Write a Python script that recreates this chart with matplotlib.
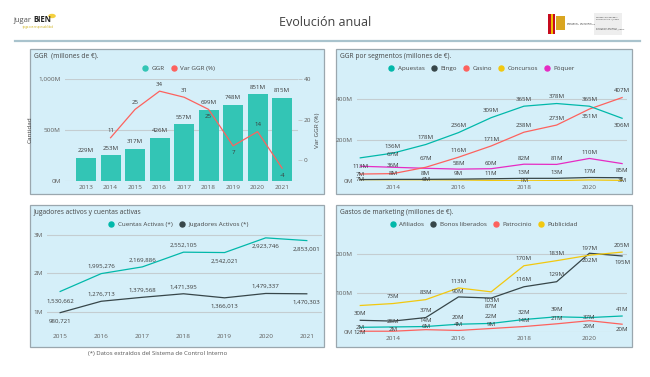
import matplotlib.pyplot as plt
import matplotlib.patches as mpatches
from matplotlib.lines import Line2D
import numpy as np

plt.rcParams['font.family'] = ['Open Sans', 'DejaVu Sans']

# ---- data ----
years_ggr = [2013, 2014, 2015, 2016, 2017, 2018, 2019, 2020, 2021]
ggr = [229, 253, 317, 426, 557, 699, 748, 851, 815]
years_var = [2014, 2015, 2016, 2017, 2018, 2019, 2020, 2021]
var_ggr = [11, 25, 34, 31, 25, 7, 14, -4]

years_seg = [2013, 2014, 2015, 2016, 2017, 2018, 2019, 2020, 2021]
apuestas = [113, 136, 178, 236, 309, 365, 378, 365, 306]
bingo = [7, 8, 8, 9, 11, 13, 13, 17, 16]
casino = [34, 36, 67, 116, 171, 238, 273, 351, 407]
concursos = [7, 6, 6, 5, 3, 1, 2, 5, 3]
poquer = [72, 67, 62, 58, 60, 82, 81, 110, 85]

years_jug = [2015, 2016, 2017, 2018, 2019, 2020, 2021]
cuentas = [1530662, 1995276, 2169886, 2552105, 2542021, 2923746, 2853001]
jugadores = [980721, 1276713, 1379568, 1471395, 1366013, 1479337, 1470303]

years_mkt = [2013, 2014, 2015, 2016, 2017, 2018, 2019, 2020, 2021]
afiliados = [12, 13, 14, 20, 22, 32, 39, 37, 41]
bonos = [30, 28, 37, 90, 87, 116, 129, 202, 195]
patrocinio = [2, 2, 6, 4, 9, 14, 21, 29, 20]
publicidad = [68, 73, 83, 113, 103, 170, 183, 197, 205]

# ---- styling ----
W, H = 650, 377
TEAL = '#01B8AA'
BAR = '#33C5B5'
DARK = '#374649'
RED = '#FD625E'
YEL = '#F2C80F'
PINK = '#E62BC3'
PANEL = '#d5eff9'
EDGE = '#9aa7ae'
TXT = '#605E5C'
LBL = '#3b3b3b'
FS_T = 4.6
FS_L = 4.4

fig = plt.figure(figsize=(6.5, 3.77), dpi=100)
fig.patch.set_facecolor('white')


def add_ax(x0, y0, x1, y1):
    ax = fig.add_axes([x0 / W, 1 - y1 / H, (x1 - x0) / W, (y1 - y0) / H])
    ax.set_zorder(2)
    return ax


def box(x0, y0, x1, y1, title):
    r = mpatches.Rectangle((x0 / W, 1 - y1 / H), (x1 - x0) / W, (y1 - y0) / H,
                           transform=fig.transFigure, facecolor=PANEL,
                           edgecolor=EDGE, lw=0.9, zorder=-5)
    fig.patches.append(r)
    fig.text((x0 + 4) / W, 1 - (y0 + 7) / H, title, fontsize=4.8, color='#444444',
             va='center', ha='left')


def style(ax, yticks, ylabels, xticks, xlabels):
    ax.set_facecolor('none')
    for s in ax.spines.values():
        s.set_visible(False)
    ax.set_yticks(yticks)
    ax.set_yticklabels(ylabels)
    ax.set_xticks(xticks)
    ax.set_xticklabels(xlabels)
    ax.tick_params(length=0, labelsize=FS_T, colors=TXT, pad=3)
    ax.grid(axis='y', color='#c4cdd1', lw=0.8)
    ax.set_axisbelow(True)


def legend(cx, cy, names, colors):
    hs = [Line2D([], [], marker='o', ls='none', color=c, markersize=3.6) for c in colors]
    fig.legend(hs, names, loc='center', bbox_to_anchor=(cx / W, 1 - cy / H), ncol=len(names),
               frameon=False, fontsize=4.5, handletextpad=0.05, columnspacing=0.45,
               borderpad=0, labelcolor='#444444')


def labels(ax, xs, ys, offs, fmt):
    for x, y, o in zip(xs, ys, offs):
        if o is None:
            continue
        ax.annotate(fmt(y), (x, y), xytext=(0, o), textcoords='offset points',
                    ha='center', va='center', fontsize=FS_L, color=LBL, annotation_clip=False)


# ---- header ----
fig.text(325 / W, 1 - 23 / H, 'Evolución anual', fontsize=9, color='#404040',
         ha='center', va='center')
fig.add_artist(Line2D([15 / W, 640 / W], [1 - 41 / H, 1 - 41 / H], color='#a9c3cd', lw=1.6))
fig.text(13 / W, 1 - 20 / H, 'jugar', fontsize=5.5, color='#555555', ha='left', va='center')
fig.text(33 / W, 1 - 20 / H, 'BIEN', fontsize=5.5, color='#222222', weight='bold',
         ha='left', va='center')
fig.patches.append(mpatches.Circle((52 / W, 1 - 16 / H), 3.8 / W, transform=fig.transFigure,
                                   facecolor='#f4d03f', edgecolor='none', zorder=1))
fig.text(22 / W, 1 - 27 / H, 'juega con responsabilidad', fontsize=1.8, color='#c9a800',
         ha='left', va='center')
# government logo
for x0, w, c in [(548, 3, '#c60b1e'), (551, 2, '#f1bf00'), (553, 2, '#c60b1e')]:
    fig.patches.append(mpatches.Rectangle((x0 / W, 1 - 34 / H), w / W, 20 / H,
                                          transform=fig.transFigure, facecolor=c,
                                          edgecolor='none'))
fig.patches.append(mpatches.Rectangle((556 / W, 1 - 30 / H), 9 / W, 14 / H,
                                      transform=fig.transFigure, facecolor='#d9a520',
                                      edgecolor='none'))
fig.text(567 / W, 1 - 24 / H, 'GOBIERNO\nDE ESPAÑA', fontsize=1.6, color='#333333',
         va='center', linespacing=1.1)
fig.text(580 / W, 1 - 24 / H, 'MINISTERIO\nDE CONSUMO', fontsize=1.6, color='#333333',
         va='center', linespacing=1.1)
fig.patches.append(mpatches.Rectangle((594 / W, 1 - 35 / H), 28 / W, 22 / H,
                                      transform=fig.transFigure, facecolor='#eeeeee',
                                      edgecolor='none', zorder=-1))
fig.text(596 / W, 1 - 18 / H, 'SECRETARÍA GENERAL\nDE CONSUMO Y JUEGO', fontsize=1.5,
         color='#333333', va='center', linespacing=1.1)
fig.text(596 / W, 1 - 29 / H, 'DIRECCIÓN GENERAL\nDE ORDENACIÓN DEL JUEGO', fontsize=1.5,
         color='#333333', va='center', linespacing=1.1)

# ---- panel 1: GGR ----
box(30, 49, 324, 194, 'GGR  (millones de €).')
ax1 = add_ax(65, 79, 298, 181)
ax1.bar(years_ggr, ggr, width=0.82, color=BAR, zorder=2)
ax1.set_xlim(2012.14, 2021.65)
ax1.set_ylim(0, 1000)
style(ax1, [0, 500, 1000], ['0M', '500M', '1,000M'], years_ggr, [str(y) for y in years_ggr])
ax1.set_ylabel('Cantidad', fontsize=4.6, color='#444444', labelpad=4)
labels(ax1, years_ggr, ggr, [5] * len(ggr), lambda v: f'{v}M')
ax1b = ax1.twinx()
ax1b.plot(years_var, var_ggr, color=RED, lw=0.9, zorder=3)
ax1b.set_ylim(-10.37, 40)
ax1b.set_yticks([0, 20, 40])
ax1b.set_yticklabels(['0', '20', '40'])
ax1b.tick_params(length=3, width=0.5, colors=TXT, labelsize=FS_T, pad=1)
ax1b.tick_params(axis='y', color='#bbbbbb')
for s in ax1b.spines.values():
    s.set_visible(False)
ax1b.set_ylabel('Var GGR (%)', fontsize=4.6, color='#444444', rotation=90, labelpad=3)
labels(ax1b, years_var, var_ggr, [5, 5, 5, 5, -5, -5, 5, -5], lambda v: f'{v}')
legend(177, 68, ['GGR', 'Var GGR (%)'], [BAR, RED])

# ---- panel 2: GGR por segmentos ----
box(336, 49, 632, 194, 'GGR por segmentos (millones de €).')
ax2 = add_ax(357, 90, 627, 181)
for ys, c in [(concursos, YEL), (bingo, DARK), (poquer, PINK), (casino, RED), (apuestas, TEAL)]:
    ax2.plot(years_seg, ys, color=c, lw=0.9)
ax2.set_xlim(2012.9, 2021.15)
ax2.set_ylim(0, 444)
style(ax2, [0, 200, 400], ['0M', '200M', '400M'], [2014, 2016, 2018, 2020],
      ['2014', '2016', '2018', '2020'])
fmtm = lambda v: f'{v}M'
labels(ax2, years_seg, apuestas, [-6, 5, 5, 5, 5, 5, 5, 5, -5], fmtm)
labels(ax2, years_seg, casino, [None, 6, 6, 5, 5, 5, 5, -5, 5], fmtm)
labels(ax2, years_seg, poquer, [None, 9, None, 4, 4, 4, 4, 4, -5], fmtm)
labels(ax2, years_seg, bingo, [4, 4, 4, 4, 4, 4, 4, 4, None], fmtm)
labels(ax2, years_seg, concursos, [0, None, 0, None, None, 0, None, None, 0], fmtm)
legend(480, 68, ['Apuestas', 'Bingo', 'Casino', 'Concursos', 'Póquer'],
       [TEAL, DARK, RED, YEL, PINK])

# ---- panel 3: Jugadores ----
box(30, 205, 324, 347, 'Jugadores activos y cuentas activas')
ax3 = add_ax(47, 228, 322, 330)
ax3.plot(years_jug, cuentas, color=TEAL, lw=0.9)
ax3.plot(years_jug, jugadores, color=DARK, lw=0.9)
ax3.set_xlim(2014.68, 2021.37)
ax3.set_ylim(530000, 3180000)
style(ax3, [1e6, 2e6, 3e6], ['1M', '2M', '3M'], years_jug, [str(y) for y in years_jug])
fmtn = lambda v: f'{v:,}'
labels(ax3, years_jug, cuentas, [-7, 5, 5, 5, -6, -6, -6], fmtn)
labels(ax3, years_jug, jugadores, [-6, 5, 5, 5, -6, 5, -6], fmtn)
legend(177, 224, ['Cuentas Activas (*)', 'Jugadores Activos (*)'], [TEAL, DARK])

# ---- panel 4: Marketing ----
box(336, 205, 632, 347, 'Gastos de marketing (millones de €).')
ax4 = add_ax(357, 240, 627, 332)
for ys, c in [(patrocinio, RED), (afiliados, TEAL), (bonos, DARK), (publicidad, YEL)]:
    ax4.plot(years_mkt, ys, color=c, lw=0.9)
ax4.set_xlim(2012.9, 2021.15)
ax4.set_ylim(0, 236)
style(ax4, [0, 100, 200], ['0M', '100M', '200M'], [2014, 2016, 2018, 2020],
      ['2014', '2016', '2018', '2020'])
labels(ax4, years_mkt, publicidad, [None, 5, 5, 5, -6, 5, 5, 5, 5], fmtm)
labels(ax4, years_mkt, bonos, [5, 0, 5, 4, -6, 5, 5, -5, -5], fmtm)
labels(ax4, years_mkt, afiliados, [-4, None, 4, 5, 5, 5, 5, 0, 5], fmtm)
labels(ax4, years_mkt, patrocinio, [3, 1.5, 2, 4, 3, 4, 4, -4, -4], fmtm)
legend(482, 224, ['Afiliados', 'Bonos liberados', 'Patrocinio', 'Publicidad'],
       [TEAL, DARK, RED, YEL])

fig.text(88 / W, 1 - 354 / H, '(*) Datos extraídos del Sistema de Control Interno',
         fontsize=4.3, color='#555555', ha='left', va='center')

fig.savefig('out.png', dpi=100, facecolor='white')
